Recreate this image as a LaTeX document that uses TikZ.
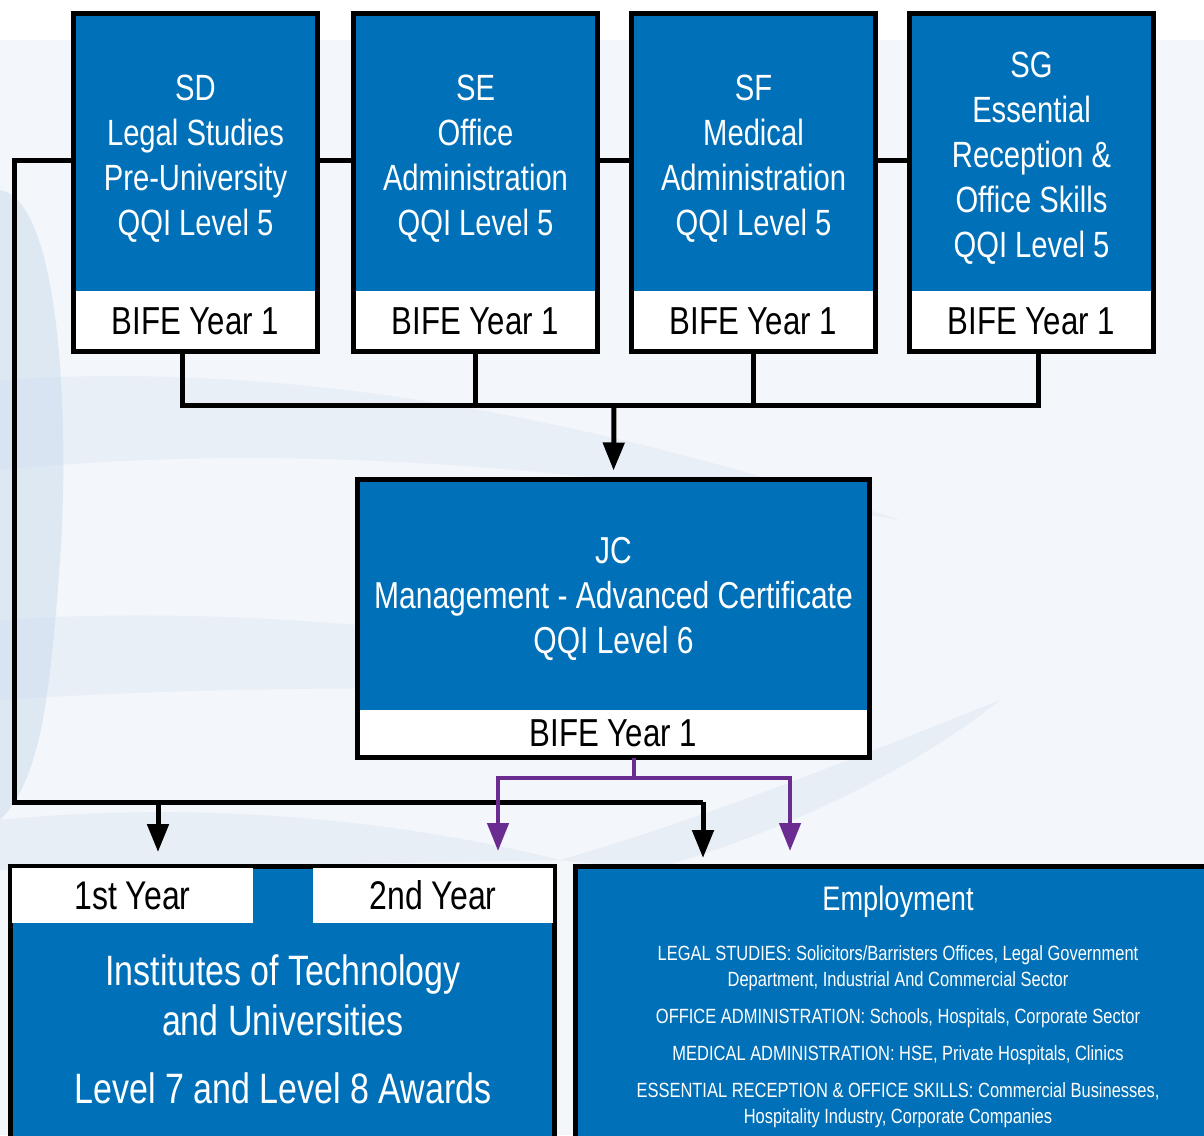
\documentclass[tikz,border=0pt]{standalone}
\usepackage{fontspec}
\setmainfont{Liberation Sans}[FakeStretch=0.8]
\usepackage{tikz}
\usetikzlibrary{arrows.meta}
\usetikzlibrary{positioning}
\definecolor{boxblue}{RGB}{0,112,184}
\definecolor{pathpurple}{RGB}{107,44,145}
\definecolor{paper}{RGB}{243,246,250}
\definecolor{paperblue}{RGB}{196,215,236}
\tikzset{
  coursebox/.style={fill=boxblue, inner sep=0pt, outer sep=0pt},
  coursetext/.style={text=white, align=center, inner sep=0pt},
  yearband/.style={fill=white, text=black, inner sep=0pt, outer sep=0pt},
  frame/.style={draw=black, line width=5.5pt},
  link/.style={draw=black, line width=5pt},
  linkarr/.style={link, -{Triangle[width=21pt,length=28pt]}},
  pathlink/.style={draw=pathpurple, line width=4.5pt, -{Triangle[width=21pt,length=28pt]}},
}
\newcommand{\toptext}{\fontsize{36.5}{45}\selectfont}
\newcommand{\bandtext}{\fontsize{39}{45}\selectfont}
\newcommand{\jobtext}{\fontsize{20.6}{26}\selectfont}
% one first-year course: blue part, year band, frame
\newcommand{\course}[3]{
  \node[coursebox, minimum width=244pt, minimum height=277.5pt] (#1) at (#2,152.25) {};
  \node[coursetext, font=\toptext] (#1t) at ([yshift=-6pt]#1.center) {#3};
  \node[yearband, font=\bandtext, minimum width=244pt, minimum height=60.5pt, anchor=north] (#1b) at (#1.south) {BIFE Year 1};
  \draw[frame] (#1.north west) rectangle (#1b.south east);
}

\begin{document}
\begin{tikzpicture}[x=1pt, y=-1pt]
    \useasboundingbox (0,0) rectangle (1204,1135);
    \clip (0,0) rectangle (1204,1135);
    % background
    \fill[paper] (0,40) rectangle (1204,1135);
    \fill[paperblue, opacity=0.45] (0,190) .. controls (60,200) and (70,420) .. (60,560) .. controls (50,700) and (40,780) .. (0,820) -- cycle;
    \fill[paperblue, opacity=0.2] (0,380) .. controls (300,360) and (600,420) .. (900,520) .. controls (600,470) and (300,440) .. (0,470) -- cycle;
    \fill[paperblue, opacity=0.2] (0,620) .. controls (300,600) and (600,650) .. (860,700) .. controls (600,690) and (300,680) .. (0,700) -- cycle;
    \fill[paperblue, opacity=0.25] (560,860) .. controls (700,820) and (850,760) .. (1000,700) .. controls (900,780) and (760,840) .. (650,870) -- cycle;
    \fill[paperblue, opacity=0.25] (0,820) .. controls (200,800) and (400,820) .. (560,860) -- (0,870) -- cycle;

    \coordinate (lft) at (14,160);
    \coordinate (jn) at (14,802);
    \coordinate (hub) at (614,405);
    \coordinate (pj) at (634,778);
    \coordinate (t1) at (158,852);
    \coordinate (t2) at (703,858);
    \coordinate (p1) at (498,851);
    \coordinate (p2) at (790,851);

    % progression line behind the top row
    \draw[link] (907,160) -- (lft) |- (t2 |- jn);

    \course{sd}{195.5}{SD\\Legal Studies\\Pre-University\\QQI Level 5}
    \course{se}{475.5}{SE\\Office\\Administration\\QQI Level 5}
    \course{sf}{753.5}{SF\\Medical\\Administration\\QQI Level 5}
    \course{sg}{1031.5}{SG\\Essential\\Reception \&\\Office Skills\\QQI Level 5}

    \node[coursebox, minimum width=512pt, minimum height=230.5pt] (jc) at (613.5,594.75) {};
    \node[coursetext, font=\fontsize{37.5}{45}\selectfont] (jct) at ([yshift=-4pt]jc.center)
      {JC\\Management - Advanced Certificate\\QQI Level 6};
    \node[yearband, font=\bandtext, minimum width=512pt, minimum height=47.5pt, anchor=north] (jcb) at (jc.south) {BIFE Year 1};
    \draw[frame] (jc.north west) rectangle (jcb.south east);

    % bottom left: third level
    \node[coursebox, minimum width=544pt, minimum height=290pt, anchor=north west] (uni) at (10.5,866.5) {};
    \draw[frame] (uni.south west) -- (uni.north west) -- (uni.north east) -- (uni.south east);
    \node[yearband, font=\fontsize{40}{45}\selectfont, minimum width=241pt, minimum height=55pt, anchor=north west] (y1) at (12,868) {1st Year};
    \node[yearband, font=\fontsize{40}{45}\selectfont, minimum width=240pt, minimum height=55pt, anchor=north west] (y2) at (313,868) {2nd Year};
    \node[coursetext, font=\fontsize{42.5}{50}\selectfont] (unitext) at (283,1029)
      {Institutes of Technology\\and Universities\\[18pt]Level 7 and Level 8 Awards};

    % bottom right: employment
    \node[coursebox, minimum width=650pt, minimum height=290pt, anchor=north west] (emp) at (575.5,866.5) {};
    \draw[frame] (emp.south west) -- (emp.north west) -- (emp.north east);
    \node[text=white, anchor=base, font=\fontsize{34}{40}\selectfont] (emptitle) at (898,910) {Employment};
    \node[coursetext, font=\jobtext] (jobs) at (898,1037)
      {LEGAL STUDIES: Solicitors/Barristers Offices, Legal Government\\
       Department, Industrial And Commercial Sector\\[11pt]
       OFFICE ADMINISTRATION: Schools, Hospitals, Corporate Sector\\[11pt]
       MEDICAL ADMINISTRATION: HSE, Private Hospitals, Clinics\\[11pt]
       ESSENTIAL RECEPTION \& OFFICE SKILLS: Commercial Businesses,\\
       Hospitality Industry, Corporate Companies};

    % connectors
    \draw[link] ([xshift=-13.5pt]sdb.south) |- ([xshift=6.5pt]sgb.south |- hub) -- ([xshift=6.5pt]sgb.south);
    \draw[link] (seb.south) -- (seb.south |- hub);
    \draw[link] (sfb.south) -- (sfb.south |- hub);
    \draw[linkarr, shorten >=9pt] (hub) -- (jc.north);
    \draw[linkarr] (t1 |- jn) -- (t1);
    \draw[linkarr] (t2 |- jn) -- (t2);
    \draw[pathlink, {Triangle[width=21pt,length=28pt]}-{Triangle[width=21pt,length=28pt]}] (p1) |- (pj) -| (p2);
    \draw[pathlink, -] (jcb.south -| pj) -- (pj);
\end{tikzpicture}
\end{document}
